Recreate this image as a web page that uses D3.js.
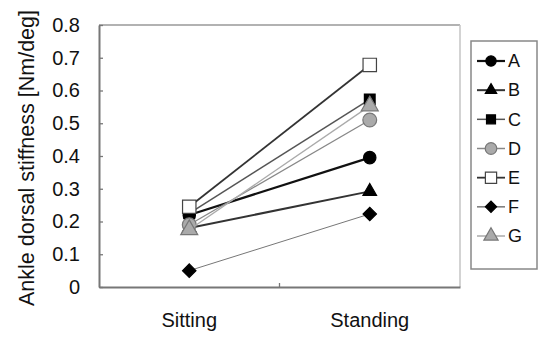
<!DOCTYPE html>
<html><head><meta charset="utf-8">
<script src="https://cdn.jsdelivr.net/npm/d3@7"></script>
<style>body{margin:0;background:#fff}svg{display:block}text{font-family:"Liberation Sans",Arial,sans-serif;fill:#111}</style>
</head><body>
<svg id="c" width="543" height="338"></svg>
<script>
const categories = ["Sitting", "Standing"];
const seriesNames = ["A", "B", "C", "D", "E", "F", "G"];
const sittingValues  = [0.22, 0.18, 0.225, 0.19, 0.245, 0.05, 0.175];
const standingValues = [0.395, 0.292, 0.573, 0.51, 0.678, 0.223, 0.553];
const yTicks = [0, 0.1, 0.2, 0.3, 0.4, 0.5, 0.6, 0.7, 0.8];
const yTitle = "Ankle dorsal stiffness [Nm/deg]";

const styles = {
  A: {shape: d3.symbolCircle, size: 120, rot: 0, fill: "#000", stroke: "#000", line: "#111", lw: 2.2},
  B: {shape: d3.symbolTriangle, size: 80, rot: 0, fill: "#000", stroke: "#000", line: "#333", lw: 2},
  C: {shape: d3.symbolSquare, size: 115, rot: 0, fill: "#000", stroke: "#000", line: "#555", lw: 1.5},
  D: {shape: d3.symbolCircle, size: 150, rot: 0, fill: "#aaa", stroke: "#777", line: "#888", lw: 1.3},
  E: {shape: d3.symbolSquare, size: 180, rot: 0, fill: "#fff", stroke: "#444", line: "#333", lw: 1.8},
  F: {shape: d3.symbolSquare, size: 90, rot: 45, fill: "#000", stroke: "#000", line: "#777", lw: 1},
  G: {shape: d3.symbolTriangle, size: 125, rot: 0, fill: "#aaa", stroke: "#777", line: "#aaa", lw: 1.3}
};

const series = seriesNames.map((n, i) => ({name: n, values: [sittingValues[i], standingValues[i]]}));

const svg = d3.select("#c");
const L = 99, R = 460, T = 25, B = 287;
const x = d3.scaleBand().domain(categories).range([L, R]);
const y = d3.scaleLinear().domain([0, 0.8]).range([B, T]);

// plot frame
svg.append("line").attr("x1", L).attr("x2", R).attr("y1", T).attr("y2", T).attr("stroke", "#999").attr("stroke-width", 1.5);
svg.append("line").attr("x1", R).attr("x2", R).attr("y1", T).attr("y2", B).attr("stroke", "#c4c4c4").attr("stroke-width", 1.5);

// y axis
const yAxis = svg.append("g").attr("transform", `translate(${L},0)`)
  .call(d3.axisLeft(y).tickValues(yTicks).tickFormat(d => d === 0 ? "0" : d3.format(".1f")(d)).tickSizeInner(-4).tickSizeOuter(0).tickPadding(19));
yAxis.select(".domain").attr("stroke", "#777").attr("stroke-width", 2);
yAxis.selectAll(".tick line").attr("stroke", "#777").attr("stroke-width", 1.3);
yAxis.selectAll("text").style("font-size", "20px").attr("fill", "#111");

// x axis
const xAxis = svg.append("g").attr("transform", `translate(0,${B})`)
  .call(d3.axisBottom(x).tickSize(0).tickPadding(26));
xAxis.select(".domain").attr("stroke", "#777").attr("stroke-width", 2);
xAxis.selectAll("text").style("font-size", "20px").attr("fill", "#111");
xAxis.append("line").attr("x1", x.step() + L).attr("x2", x.step() + L).attr("y1", 0).attr("y2", -4).attr("stroke", "#777").attr("stroke-width", 1.3);

// y title
svg.append("text").attr("transform", `translate(34,${(T + B) / 2 + 2}) rotate(-90)`)
  .attr("text-anchor", "middle").style("font-size", "21.5px").text(yTitle);

const cx = c => x(c) + x.bandwidth() / 2;
const lineGen = d3.line().x((d, i) => cx(categories[i])).y(d => y(d));

series.forEach(s => {
  const st = styles[s.name];
  const g = svg.append("g");
  g.append("path").attr("d", lineGen(s.values)).attr("fill", "none").attr("stroke", st.line).attr("stroke-width", st.lw);
  g.selectAll("path.m").data(s.values).join("path").attr("class", "m")
    .attr("d", d3.symbol().type(st.shape).size(st.size))
    .attr("transform", (d, i) => `translate(${cx(categories[i])},${y(d)}) rotate(${st.rot})`)
    .attr("fill", st.fill).attr("stroke", st.stroke).attr("stroke-width", 1.2);
});

// legend
const lg = svg.append("g");
lg.append("rect").attr("x", 471).attr("y", 41).attr("width", 66).attr("height", 228)
  .attr("fill", "#fff").attr("stroke", "#888").attr("stroke-width", 1.5);
const ly = d3.scalePoint().domain(seriesNames).range([61, 236]);
seriesNames.forEach(n => {
  const st = styles[n];
  const yy = ly(n);
  lg.append("line").attr("x1", 477).attr("x2", 505).attr("y1", yy).attr("y2", yy).attr("stroke", st.line).attr("stroke-width", Math.max(st.lw, 1.5));
  lg.append("path").attr("d", d3.symbol().type(st.shape).size(st.size * 0.7))
    .attr("transform", `translate(491,${yy}) rotate(${st.rot})`).attr("fill", st.fill).attr("stroke", st.stroke).attr("stroke-width", 1.2);
  lg.append("text").attr("x", 508).attr("y", yy).attr("dy", "0.35em").style("font-size", "18px").text(n);
});
</script>
</body></html>
